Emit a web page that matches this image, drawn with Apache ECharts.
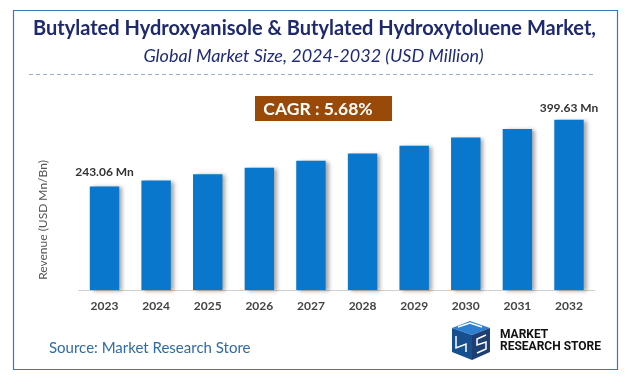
<!DOCTYPE html>
<html>
<head>
<meta charset="utf-8">
<script src="https://cdn.jsdelivr.net/npm/echarts@6/dist/echarts.min.js"></script>
<style>
html,body{margin:0;padding:0;background:#fff;}
#c{width:633px;height:385px;}
</style>
</head>
<body>
<div id="c"></div>
<script>
const categories = ['2023','2024','2025','2026','2027','2028','2029','2030','2031','2032'];
const revenue = [243.06, 256.9, 271.5, 286.9, 303.2, 320.4, 338.6, 357.9, 378.2, 399.63];
const labelledIndex = [0, 9];
const titleText = 'Butylated Hydroxyanisole & Butylated Hydroxytoluene Market,';
const subtitleText = 'Global Market Size, 2024-2032 (USD Million)';
const cagrText = 'CAGR : 5.68%';
const yAxisName = 'Revenue (USD Mn/Bn)';
const sourceText = 'Source: Market Research Store';

const chart = echarts.init(document.getElementById('c'), null, {renderer:'canvas'});
const F = 'Lato, "Open Sans", sans-serif';

const seriesData = revenue.map((v,i)=>{
  const item = {value:v};
  if (labelledIndex.includes(i)) {
    item.label = {show:true, position:'top', distance: i===0 ? 8 : 6,
      formatter: p => p.value.toFixed(2) + ' Mn',
      fontFamily:F, fontWeight:'bold', fontSize:12, color:'#333'};
  }
  return item;
});

chart.setOption({
  animation:false,
  backgroundColor:'#fff',
  grid:{left:78.7, right:38.2, top:77, bottom:95},
  xAxis:{type:'category', data:categories,
    axisLine:{lineStyle:{color:'#d0d0d0', width:1}},
    axisTick:{show:false},
    axisLabel:{fontFamily:F, fontWeight:'bold', fontSize:12, color:'#444', margin:10}
  },
  yAxis:{type:'value', min:0, max:500, show:false, splitLine:{show:false}},
  series:[{type:'bar', data:seriesData, barWidth:'57%',
    itemStyle:{color:'#0877cc', shadowColor:'rgba(0,0,0,0.35)', shadowBlur:4, shadowOffsetX:3, shadowOffsetY:1}
  }],
  graphic:[
    {type:'rect', shape:{x:13.5, y:10.5, width:604, height:359}, style:{fill:'none', stroke:'#3a78b8', lineWidth:1.2}, silent:true, z:-1},
    {type:'text', x:314.5, y:29, style:{text:titleText, fontFamily:F, fontWeight:'bold', fontSize:20, fill:'#1f2a6e', align:'center', verticalAlign:'middle'}},
    {type:'text', x:313.5, y:56, style:{text:subtitleText, fontFamily:F, fontStyle:'italic', fontSize:18, fill:'#1f2a7a', align:'center', verticalAlign:'middle'}},
    {type:'line', shape:{x1:29, y1:74.5, x2:593, y2:74.5}, style:{stroke:'#9ab0cc', lineWidth:1, lineDash:[4,3]}},
    {type:'rect', shape:{x:255, y:96, width:137, height:25}, style:{fill:'#9a4a08'}},
    {type:'text', x:318, y:109, style:{text:cagrText, fontFamily:F, fontWeight:'bold', fontSize:17.5, fill:'#fff', align:'center', verticalAlign:'middle'}},
    {type:'text', x:43, y:220, rotation:Math.PI/2, style:{text:yAxisName, fontFamily:F, fontSize:12, fill:'#555', align:'center', verticalAlign:'middle'}},
    {type:'text', x:49, y:348, style:{text:sourceText, fontFamily:F, fontSize:15, fill:'#2e6ca4', align:'left', verticalAlign:'middle'}},
    // logo icon
    {type:'polygon', shape:{points:[[452,328],[470,321],[490,328],[472,335]]}, style:{fill:'#2f7fd0'}},
    {type:'polygon', shape:{points:[[452,328],[472,335],[472,360],[452,352]]}, style:{fill:'#17508f'}},
    {type:'polygon', shape:{points:[[472,335],[490,328],[490,352],[472,360]]}, style:{fill:'#1f3f73'}},
    {type:'polyline', shape:{points:[[458,327],[470,323],[482,327]]}, style:{stroke:'#fff', lineWidth:1.5, fill:'none'}},
    {type:'polyline', shape:{points:[[456,336],[456,348],[466,344],[466,352]]}, style:{stroke:'#fff', lineWidth:1.5, fill:'none'}},
    {type:'polyline', shape:{points:[[486,335],[477,339],[477,345],[486,342],[486,349],[477,353]]}, style:{stroke:'#fff', lineWidth:1.5, fill:'none'}},
    {type:'text', x:500, y:335, style:{text:'MARKET', fontFamily:'"Liberation Sans Narrow", "Roboto", sans-serif', fontWeight:'bold', fontSize:12, fill:'#111', align:'left', verticalAlign:'middle'}},
    {type:'text', x:500, y:346.5, style:{text:'RESEARCH STORE', fontFamily:'"Liberation Sans Narrow", "Roboto", sans-serif', fontWeight:'bold', fontSize:12, fill:'#111', align:'left', verticalAlign:'middle'}}
  ]
});
</script>
</body>
</html>
